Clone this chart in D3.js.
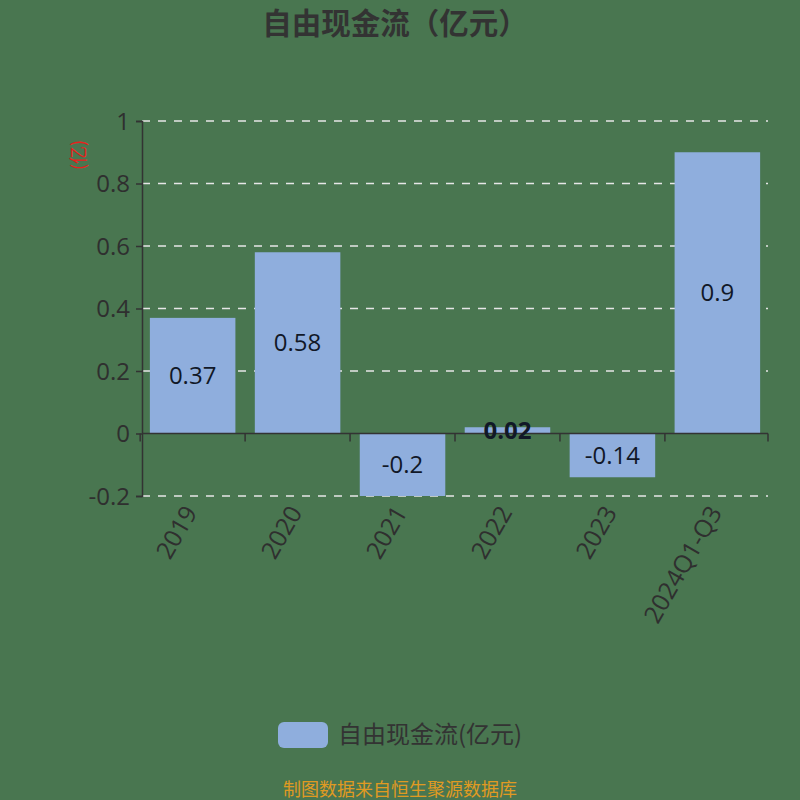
<!DOCTYPE html>
<html><head><meta charset="utf-8">
<script src="https://cdn.jsdelivr.net/npm/d3@7"></script>
<style>html,body{margin:0;padding:0;background:#497650;}svg{display:block;}</style>
</head><body>
<script>
const categories = ["2019","2020","2021","2022","2023","2024Q1-Q3"];
const values = [0.37, 0.58, -0.2, 0.02, -0.14, 0.9];
const yTicks = [-0.2, 0, 0.2, 0.4, 0.6, 0.8, 1];
const title = "自由现金流（亿元）";
const seriesName = "自由现金流(亿元)";
const unitLabel = "(亿)";
const footer = "制图数据来自恒生聚源数据库";

const W = 800, H = 800;
const m = {left:142, right:32, top:121, bottom:304};
const barColor = "#8FAEDD";
const numFont = "'Open Sans', 'Noto Sans CJK SC', sans-serif";
const cjkFont = "'Noto Sans CJK SC', sans-serif";

const svg = d3.select("body").append("svg").attr("width", W).attr("height", H);
svg.append("rect").attr("width", W).attr("height", H).attr("fill", "#497650");

const x = d3.scaleBand().domain(categories).range([m.left, W - m.right]).paddingInner(0.185).paddingOuter(0.075);
const y = d3.scaleLinear().domain([-0.2, 1]).range([H - m.bottom, m.top]);

// title
svg.append("text").attr("x", 395).attr("y", 34).attr("text-anchor", "middle")
  .attr("font-family", cjkFont).attr("font-weight", "bold").attr("font-size", 29.5)
  .attr("fill", "#333").text(title);

// gridlines
svg.append("g").selectAll("line").data(yTicks.filter(d => d !== 0)).join("line")
  .attr("x1", m.left).attr("x2", W - m.right)
  .attr("y1", d => y(d)).attr("y2", d => y(d))
  .attr("stroke", "#e6e6e6").attr("stroke-width", 1.3).attr("stroke-dasharray", "8,8");

// bars
svg.append("g").selectAll("rect").data(values).join("rect")
  .attr("x", (d, i) => x(categories[i]))
  .attr("width", x.bandwidth())
  .attr("y", d => y(Math.max(0, d)))
  .attr("height", d => Math.abs(y(d) - y(0)))
  .attr("fill", barColor);

// y axis
const yAxis = d3.axisLeft(y).tickValues(yTicks).tickSize(6).tickPadding(6).tickFormat(d => String(d));
const ya = svg.append("g").attr("transform", `translate(${m.left},0)`).call(yAxis);
ya.select(".domain").attr("stroke", "#333").attr("stroke-width", 1.5);
ya.selectAll(".tick line").attr("stroke", "#333").attr("stroke-width", 1.5);
ya.selectAll(".tick text").attr("font-family", numFont).attr("font-size", 24).attr("fill", "#2f2f2f").attr("dy", "0.35em");

// x axis line at zero with band-boundary ticks
const xa = svg.append("g").attr("transform", `translate(0,${y(0)})`);
xa.append("line").attr("x1", m.left).attr("x2", W - m.right).attr("stroke", "#333").attr("stroke-width", 1.5);
const bounds = categories.map(c => x(c) - x.step() * x.paddingInner() / 2).concat([W - m.right]);
xa.selectAll("line.tk").data(bounds).join("line").attr("class", "tk")
  .attr("x1", d => d).attr("x2", d => d).attr("y1", 0).attr("y2", 8)
  .attr("stroke", "#333").attr("stroke-width", 1.5);

// x labels at bottom of grid, rotated
svg.append("g").selectAll("text").data(categories).join("text")
  .attr("transform", d => `translate(${x(d) + x.bandwidth() / 2 - 2},${H - m.bottom + 12}) rotate(-60)`)
  .attr("text-anchor", "end").attr("dy", "0.35em")
  .attr("font-family", numFont).attr("font-size", 24.5).attr("fill", "#2f2f2f").text(d => d);

// bar value labels
svg.append("g").selectAll("text").data(values).join("text")
  .attr("x", (d, i) => x(categories[i]) + x.bandwidth() / 2)
  .attr("y", d => (y(d) + y(0)) / 2)
  .attr("dy", "0.35em").attr("text-anchor", "middle")
  .attr("font-family", numFont).attr("font-size", 24)
  .attr("font-weight", d => Math.abs(d) < 0.05 ? "bold" : "normal")
  .attr("fill", "#111827").text(d => d);

// y unit label
svg.append("text").attr("transform", "translate(79,155) rotate(-90)")
  .attr("text-anchor", "middle").attr("dy", "0.35em")
  .attr("font-family", cjkFont).attr("font-size", 18).attr("fill", "#e8201c").text(unitLabel);

// legend
svg.append("rect").attr("x", 278).attr("y", 722).attr("width", 50).attr("height", 26).attr("rx", 6)
  .attr("fill", barColor);
svg.append("text").attr("x", 338).attr("y", 735).attr("dy", "0.35em")
  .attr("font-family", cjkFont).attr("font-size", 24).attr("fill", "#333").text(seriesName);

// footer
svg.append("text").attr("x", 400).attr("y", 790).attr("dy", "0.35em").attr("text-anchor", "middle")
  .attr("font-family", cjkFont).attr("font-size", 18).attr("fill", "#e09a22").text(footer);
</script>
</body></html>
